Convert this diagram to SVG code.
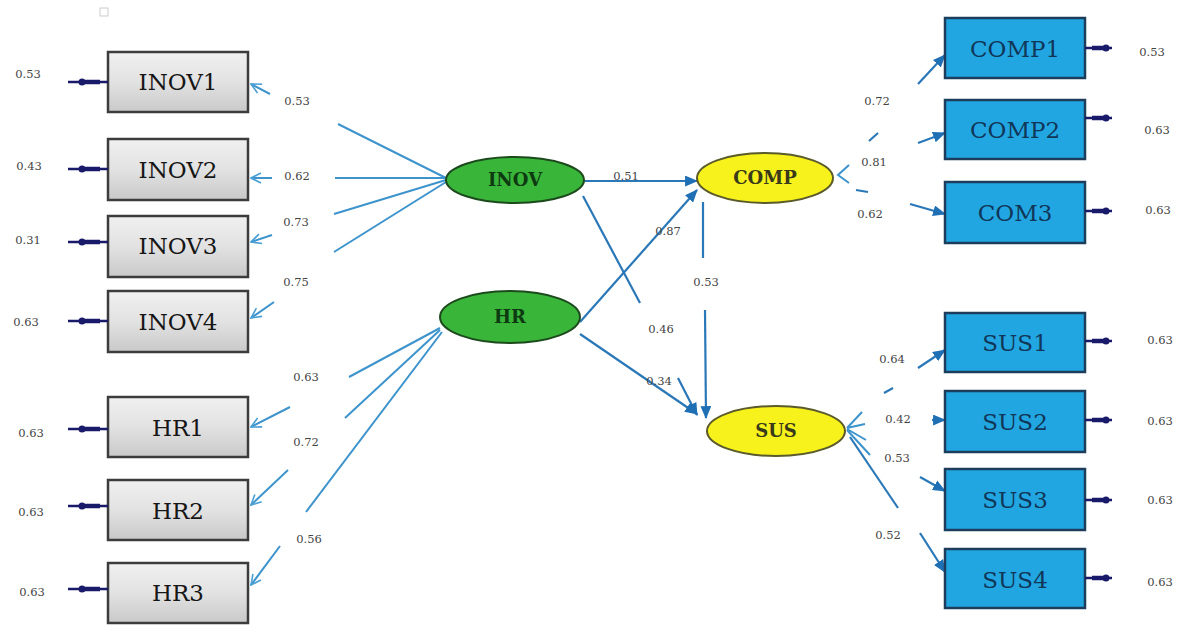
<svg xmlns="http://www.w3.org/2000/svg" width="1192" height="631" viewBox="0 0 1192 631">
<defs>
<linearGradient id="gray" x1="0" y1="0" x2="0" y2="1">
<stop offset="0" stop-color="#f0f0f0"/><stop offset="0.5" stop-color="#e2e2e2"/><stop offset="1" stop-color="#c9c9c9"/>
</linearGradient>
<marker id="open" viewBox="0 0 12 12" refX="11" refY="6" markerWidth="12" markerHeight="12" markerUnits="userSpaceOnUse" orient="auto">
<path d="M1,1 L11,6 L1,11" fill="none" stroke="#4a9fd4" stroke-width="1.6"/>
</marker>
<marker id="fill" viewBox="0 0 12 10" refX="11" refY="5" markerWidth="13" markerHeight="11" markerUnits="userSpaceOnUse" orient="auto">
<path d="M0,0 L12,5 L0,10 Z" fill="#1f6fb5"/>
</marker>
</defs>
<style>
.box{fill:url(#gray);stroke:#3c3c3c;stroke-width:2.5}
.bbox{fill:#22a6e2;stroke:#1c3e5c;stroke-width:2.5}
.bt{font-family:"DejaVu Serif","Liberation Serif",serif;font-size:23px;fill:#161616;text-anchor:middle}
.btb{font-family:"DejaVu Serif","Liberation Serif",serif;font-size:23px;fill:#103658;text-anchor:middle}
.et{font-family:"DejaVu Serif","Liberation Serif",serif;font-size:18px;font-weight:bold;text-anchor:middle}
.num{font-family:"DejaVu Serif","Liberation Serif",serif;font-size:11.5px;fill:#444;text-anchor:middle}
.ld{fill:none;stroke:#3d93cc;stroke-width:2}
.ldo{fill:none;stroke:#3d93cc;stroke-width:2;marker-end:url(#open)}
.st{fill:none;stroke:#2a78b8;stroke-width:2.2}
.sta{fill:none;stroke:#2a78b8;stroke-width:2.2;marker-end:url(#fill)}
.err{stroke:#1a1a6a;stroke-width:2.5}
.errb{stroke:#1a1a6a;stroke-width:4.5}
</style>
<rect width="1192" height="631" fill="#ffffff"/>
<rect x="100" y="8" width="8" height="8" fill="none" stroke="#ccc" stroke-width="1"/>

<g id="connectors">
<path class="ld" d="M446,178 L338,124"/><path class="ldo" d="M270,94 L251,84"/>
<path class="ld" d="M446,178 L335,178"/><path class="ldo" d="M272,178 L251,178"/>
<path class="ld" d="M446,180 L334,214"/><path class="ldo" d="M272,235 L251,242"/>
<path class="ld" d="M446,182 L334,252"/><path class="ldo" d="M274,302 L251,318"/>
<path class="ld" d="M440,328 L349,377"/><path class="ldo" d="M290,407 L251,427"/>
<path class="ld" d="M440,330 L345,418"/><path class="ldo" d="M288,470 L251,505"/>
<path class="ld" d="M442,332 L306,512"/><path class="ldo" d="M280,546 L251,585"/>
<path class="sta" d="M584,181 L697,181" stroke-width="3"/>
<path class="sta" d="M580,322 L697,190"/>
<path class="st" d="M583,196 L640,303"/><path class="sta" d="M678,378 L697,415"/>
<path class="sta" d="M580,334 L697,414"/>
<path class="st" d="M703,202 L703,258"/><path class="sta" d="M705,310 L706,418"/>
<path class="ld" d="M849,165 L838,175 L849,183"/>
<path class="st" d="M869,141 L878,133"/><path class="sta" d="M918,84 L945,55"/>
<path class="sta" d="M918,143 L945,133"/>
<path class="st" d="M856,190 L868,192"/><path class="sta" d="M910,204 L945,214"/>
<path class="ld" d="M847,428 L862,412 M847,428 L865,424 M847,429 L866,440 M847,430 L870,455"/>
<path class="st" d="M884,393 L893,388"/><path class="sta" d="M918,368 L945,350"/>
<path class="sta" d="M932,420 L945,420"/>
<path class="sta" d="M920,477 L945,491"/>
<path class="st" d="M850,437 L898,508"/><path class="sta" d="M920,533 L945,572"/>
</g>

<g id="INOV1"><rect class="box" x="108" y="52" width="140" height="60"/><text class="bt" x="178" y="90">INOV1</text>
<line class="err" x1="68" y1="82" x2="108" y2="82"/><line class="errb" x1="82" y1="82" x2="100" y2="82"/><circle cx="82" cy="82" r="3.5" fill="#1a1a6a"/></g>
<g id="INOV2"><rect class="box" x="108" y="139" width="140" height="61"/><text class="bt" x="178" y="178">INOV2</text>
<line class="err" x1="68" y1="169" x2="108" y2="169"/><line class="errb" x1="82" y1="169" x2="100" y2="169"/><circle cx="82" cy="169" r="3.5" fill="#1a1a6a"/></g>
<g id="INOV3"><rect class="box" x="108" y="216" width="140" height="61"/><text class="bt" x="178" y="254">INOV3</text>
<line class="err" x1="68" y1="242" x2="108" y2="242"/><line class="errb" x1="82" y1="242" x2="100" y2="242"/><circle cx="82" cy="242" r="3.5" fill="#1a1a6a"/></g>
<g id="INOV4"><rect class="box" x="108" y="291" width="140" height="61"/><text class="bt" x="178" y="330">INOV4</text>
<line class="err" x1="68" y1="321" x2="108" y2="321"/><line class="errb" x1="82" y1="321" x2="100" y2="321"/><circle cx="82" cy="321" r="3.5" fill="#1a1a6a"/></g>
<g id="HR1"><rect class="box" x="108" y="397" width="140" height="60"/><text class="bt" x="178" y="436">HR1</text>
<line class="err" x1="68" y1="429" x2="108" y2="429"/><line class="errb" x1="82" y1="429" x2="100" y2="429"/><circle cx="82" cy="429" r="3.5" fill="#1a1a6a"/></g>
<g id="HR2"><rect class="box" x="108" y="480" width="140" height="60"/><text class="bt" x="178" y="519">HR2</text>
<line class="err" x1="68" y1="506" x2="108" y2="506"/><line class="errb" x1="82" y1="506" x2="100" y2="506"/><circle cx="82" cy="506" r="3.5" fill="#1a1a6a"/></g>
<g id="HR3"><rect class="box" x="108" y="563" width="140" height="60"/><text class="bt" x="178" y="601">HR3</text>
<line class="err" x1="68" y1="589" x2="108" y2="589"/><line class="errb" x1="82" y1="589" x2="100" y2="589"/><circle cx="82" cy="589" r="3.5" fill="#1a1a6a"/></g>

<g id="INOV"><ellipse cx="515" cy="180" rx="69" ry="23" fill="#39b53a" stroke="#1d4a1d" stroke-width="2"/><text class="et" x="515" y="186" fill="#0d3a10">INOV</text></g>
<g id="HR"><ellipse cx="510" cy="317" rx="70" ry="26" fill="#39b53a" stroke="#1d4a1d" stroke-width="2"/><text class="et" x="510" y="323" fill="#0d3a10">HR</text></g>
<g id="COMP"><ellipse cx="765" cy="178" rx="68" ry="25" fill="#f7f21c" stroke="#5a5a2a" stroke-width="2"/><text class="et" x="765" y="184" fill="#3a3a1a">COMP</text></g>
<g id="SUS"><ellipse cx="776" cy="431" rx="69" ry="25" fill="#f7f21c" stroke="#5a5a2a" stroke-width="2"/><text class="et" x="776" y="437" fill="#3a3a1a">SUS</text></g>

<g id="COMP1"><rect class="bbox" x="945" y="18" width="140" height="60"/><text class="btb" x="1015" y="57">COMP1</text>
<line class="err" x1="1085" y1="48" x2="1112" y2="48"/><line class="errb" x1="1092" y1="48" x2="1106" y2="48"/><circle cx="1106" cy="48" r="3.5" fill="#1a1a6a"/></g>
<g id="COMP2"><rect class="bbox" x="945" y="100" width="140" height="59"/><text class="btb" x="1015" y="138">COMP2</text>
<line class="err" x1="1085" y1="118" x2="1112" y2="118"/><line class="errb" x1="1092" y1="118" x2="1106" y2="118"/><circle cx="1106" cy="118" r="3.5" fill="#1a1a6a"/></g>
<g id="COM3"><rect class="bbox" x="945" y="182" width="140" height="61"/><text class="btb" x="1015" y="221">COM3</text>
<line class="err" x1="1085" y1="211" x2="1112" y2="211"/><line class="errb" x1="1092" y1="211" x2="1106" y2="211"/><circle cx="1106" cy="211" r="3.5" fill="#1a1a6a"/></g>
<g id="SUS1"><rect class="bbox" x="945" y="313" width="140" height="59"/><text class="btb" x="1015" y="351">SUS1</text>
<line class="err" x1="1085" y1="341" x2="1112" y2="341"/><line class="errb" x1="1092" y1="341" x2="1106" y2="341"/><circle cx="1106" cy="341" r="3.5" fill="#1a1a6a"/></g>
<g id="SUS2"><rect class="bbox" x="945" y="391" width="140" height="61"/><text class="btb" x="1015" y="430">SUS2</text>
<line class="err" x1="1085" y1="420" x2="1112" y2="420"/><line class="errb" x1="1092" y1="420" x2="1106" y2="420"/><circle cx="1106" cy="420" r="3.5" fill="#1a1a6a"/></g>
<g id="SUS3"><rect class="bbox" x="945" y="469" width="140" height="61"/><text class="btb" x="1015" y="508">SUS3</text>
<line class="err" x1="1085" y1="500" x2="1112" y2="500"/><line class="errb" x1="1092" y1="500" x2="1106" y2="500"/><circle cx="1106" cy="500" r="3.5" fill="#1a1a6a"/></g>
<g id="SUS4"><rect class="bbox" x="945" y="549" width="140" height="59"/><text class="btb" x="1015" y="588">SUS4</text>
<line class="err" x1="1085" y1="578" x2="1112" y2="578"/><line class="errb" x1="1092" y1="578" x2="1106" y2="578"/><circle cx="1106" cy="578" r="3.5" fill="#1a1a6a"/></g>

<g id="labels">
<text class="num" x="28" y="78">0.53</text>
<text class="num" x="29" y="170">0.43</text>
<text class="num" x="28" y="244">0.31</text>
<text class="num" x="26" y="326">0.63</text>
<text class="num" x="31" y="437">0.63</text>
<text class="num" x="31" y="516">0.63</text>
<text class="num" x="32" y="596">0.63</text>
<text class="num" x="297" y="105">0.53</text>
<text class="num" x="297" y="180">0.62</text>
<text class="num" x="296" y="226">0.73</text>
<text class="num" x="296" y="286">0.75</text>
<text class="num" x="306" y="381">0.63</text>
<text class="num" x="306" y="446">0.72</text>
<text class="num" x="309" y="543">0.56</text>
<text class="num" x="626" y="180">0.51</text>
<text class="num" x="668" y="235">0.87</text>
<text class="num" x="706" y="286">0.53</text>
<text class="num" x="661" y="333">0.46</text>
<text class="num" x="659" y="385">0.34</text>
<text class="num" x="877" y="105">0.72</text>
<text class="num" x="874" y="166">0.81</text>
<text class="num" x="870" y="218">0.62</text>
<text class="num" x="892" y="363">0.64</text>
<text class="num" x="898" y="423">0.42</text>
<text class="num" x="897" y="462">0.53</text>
<text class="num" x="888" y="539">0.52</text>
<text class="num" x="1152" y="56">0.53</text>
<text class="num" x="1157" y="134">0.63</text>
<text class="num" x="1158" y="214">0.63</text>
<text class="num" x="1160" y="344">0.63</text>
<text class="num" x="1160" y="425">0.63</text>
<text class="num" x="1160" y="504">0.63</text>
<text class="num" x="1160" y="586">0.63</text>
</g>
</svg>
